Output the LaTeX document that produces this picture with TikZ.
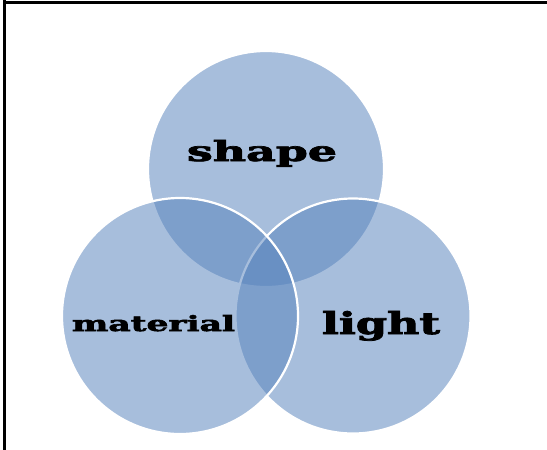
\documentclass[tikz,border=0pt]{standalone}
\usepackage{graphicx}
\usepackage{fontspec}
\newfontfamily\vennfont{DejaVu Serif}[BoldFeatures={FakeBold=2.5}]
\definecolor{vennblue}{RGB}{87,131,189}
\tikzset{
  venn/.style={fill=vennblue, fill opacity=0.52, draw=white, line width=2.2pt},
  lab/.style={inner sep=0pt, anchor=base, text=black},
  frame/.style={line width=2.8pt, draw=black}
}
\begin{document}
\begin{tikzpicture}[x=1pt,y=-1pt]
\useasboundingbox (0,0) rectangle (547,450);
\fill[white] (0,0) rectangle (547,450);
\coordinate (tl) at (4.5,0);
\coordinate (bl) at (4.5,450);
\coordinate (ttl) at (4.5,2.5);
\coordinate (ttr) at (547,2.5);
\draw[frame] (tl) -- (bl);
\draw[frame] (ttl) -- (ttr);
\path[venn] (266,169) circle (118);
\path[venn] (353,316) circle (117.5);
\path[venn] (180,316) circle (118);
\node[lab] (shape) at (262,161) {\resizebox{150pt}{21pt}{\vennfont\bfseries shape}};
\node[lab] (material) at (153.5,331) {\resizebox{163pt}{16pt}{\vennfont\bfseries material}};
\node[lab] (light) at (381,334) {\resizebox{118pt}{23pt}{\vennfont\bfseries light}};
\end{tikzpicture}
\end{document}
